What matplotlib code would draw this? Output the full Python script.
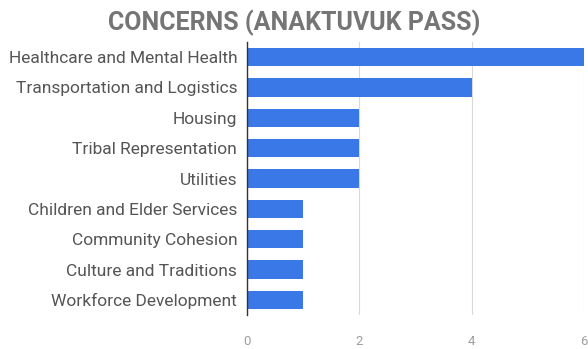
import numpy as np
from matplotlib import pyplot as plt

plt.rcParams['font.family'] = ['Roboto', 'DejaVu Sans']

categories = [
    "Healthcare and Mental Health",
    "Transportation and Logistics",
    "Housing",
    "Tribal Representation",
    "Utilities",
    "Children and Elder Services",
    "Community Cohesion",
    "Culture and Traditions",
    "Workforce Development",
]
counts = [6, 4, 2, 2, 2, 1, 1, 1, 1]
xticks = [0, 2, 4, 6]

fig = plt.figure(figsize=(5.88, 3.49), dpi=100)
ax = fig.add_axes([0.42, 0.097, 0.573, 0.783])

y = np.arange(len(categories))
ax.barh(y, counts, height=0.6, color='#3b78e7', zorder=3)
ax.set_ylim(len(categories) - 0.5, -0.5)
ax.set_xlim(0, 6)

ax.set_yticks(y)
ax.set_yticklabels(categories, fontsize=12.5, color='#555555')
ax.set_xticks(xticks)
ax.set_xticklabels([str(v) for v in xticks], fontsize=9.5, color='#9e9e9e')
ax.tick_params(axis='both', length=0)
ax.tick_params(axis='y', pad=7)
ax.tick_params(axis='x', pad=14)

ax.grid(axis='x', color='#d9d9d9', linewidth=0.8, zorder=0)
for s in ['top', 'right', 'bottom']:
    ax.spines[s].set_visible(False)
ax.spines['left'].set_color('#333333')
ax.spines['left'].set_linewidth(1.0)
ax.spines['left'].set_zorder(4)

fig.text(0.5, 0.935, "CONCERNS (ANAKTUVUK PASS)", ha='center', va='center',
         fontsize=18, fontweight='bold', color='#757575')

fig.savefig('out.png', dpi=100)
